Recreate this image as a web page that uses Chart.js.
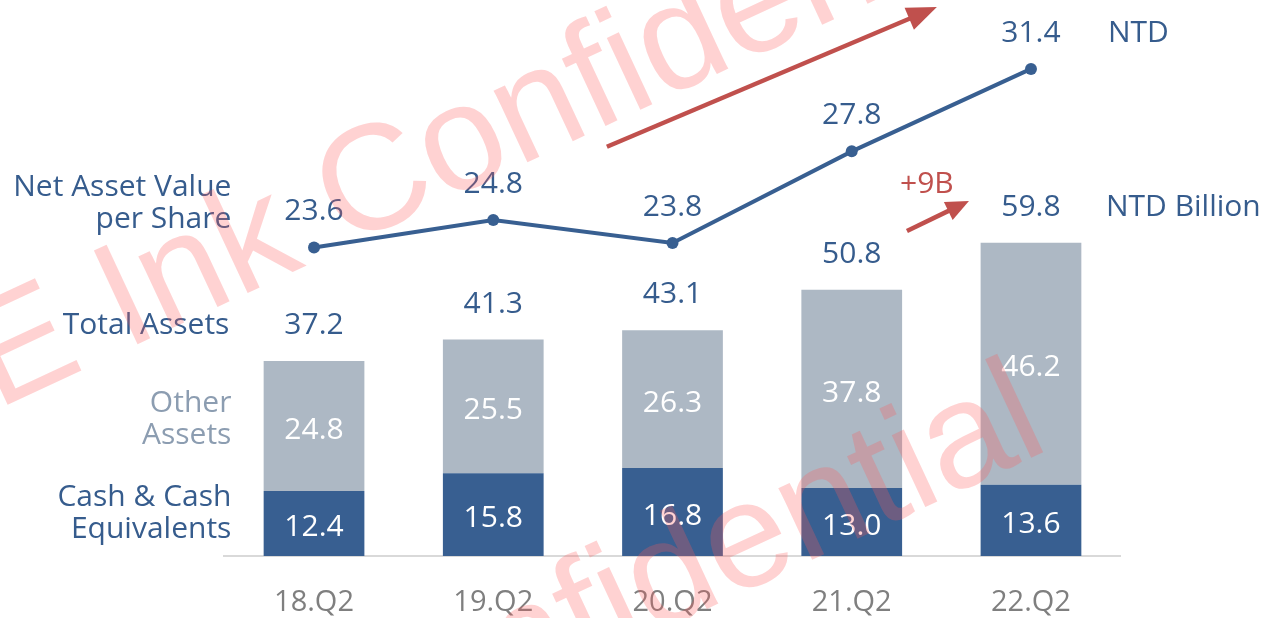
<!DOCTYPE html>
<html><head><meta charset="utf-8">
<script src="https://cdn.jsdelivr.net/npm/chart.js@4.4.0/dist/chart.umd.min.js"></script>
<style>html,body{margin:0;padding:0;background:#fff;overflow:hidden}</style>
</head><body>
<canvas id="c" width="1272" height="618"></canvas>
<script>
// ---- data ----
const categories = ['18.Q2', '19.Q2', '20.Q2', '21.Q2', '22.Q2'];
const cashValues = [12.4, 15.8, 16.8, 13.0, 13.6];
const otherValues = [24.8, 25.5, 26.3, 37.8, 46.2];
const totalValues = [37.2, 41.3, 43.1, 50.8, 59.8];
const navValues = [23.6, 24.8, 23.8, 27.8, 31.4];
const seriesNames = { nav: ['Net Asset Value', 'per Share'], total: ['Total Assets'], other: ['Other', 'Assets'], cash: ['Cash & Cash', 'Equivalents'] };
const unitNav = 'NTD';
const unitAssets = 'NTD Billion';
const growthLabel = '+9B';
const watermarkText = 'E Ink Confidential';

// ---- style ----
const FONT = '"Open Sans", "Noto Sans", sans-serif';
const FS = 30;
const BLUE = '#385f91';
const GRAY_BAR = '#adb8c4';
const TEXT_BLUE = '#365c8d';
const TEXT_GRAY = '#8c9db1';
const TICK_GRAY = '#7f7f7f';
const RED = '#c0504d';

// annotation anchors in scale units (category index, value)
const arrowNav = { from: [1.634, 28.0], to: [3.475, 34.1], scale: 'y2', width: 4.5, head: 30, half: 12 };
const arrowAssets = { from: [3.308, 62.0], to: [3.654, 67.75], scale: 'y', width: 4.5, head: 23, half: 10 };
const growthAnchor = [3.419, 71.4];

function drawText(ctx, str, x, cy, color, align) {
  ctx.fillStyle = color;
  ctx.textAlign = align || 'center';
  ctx.textBaseline = 'alphabetic';
  ctx.fillText(str, x, cy + FS * 0.357);
}

function drawArrow(ctx, x1, y1, x2, y2, w, head, half, color) {
  const ang = Math.atan2(y2 - y1, x2 - x1);
  const bx = x2 - Math.cos(ang) * head, by = y2 - Math.sin(ang) * head;
  ctx.strokeStyle = color; ctx.fillStyle = color; ctx.lineWidth = w; ctx.lineCap = 'butt';
  ctx.beginPath(); ctx.moveTo(x1, y1); ctx.lineTo(bx + Math.cos(ang) * 2, by + Math.sin(ang) * 2); ctx.stroke();
  ctx.beginPath();
  ctx.moveTo(x2, y2);
  ctx.lineTo(bx + Math.sin(ang) * half, by - Math.cos(ang) * half);
  ctx.lineTo(bx - Math.sin(ang) * half, by + Math.cos(ang) * half);
  ctx.closePath(); ctx.fill();
}

const labelPlugin = {
  id: 'valueLabels',
  afterDatasetsDraw(chart) {
    const { ctx, chartArea, scales } = chart;
    const lineMeta = chart.getDatasetMeta(0);
    const cashMeta = chart.getDatasetMeta(1);
    const otherMeta = chart.getDatasetMeta(2);
    ctx.save();
    ctx.font = FS + 'px ' + FONT;
    lineMeta.data.forEach((pt, i) => drawText(ctx, navValues[i].toFixed(1), pt.x, pt.y - 38, TEXT_BLUE));
    otherMeta.data.forEach((bar, i) => {
      drawText(ctx, totalValues[i].toFixed(1), bar.x, bar.y - 37.5, TEXT_BLUE);
      drawText(ctx, otherValues[i].toFixed(1), bar.x, (bar.y + bar.base) / 2 + 2, '#ffffff');
    });
    cashMeta.data.forEach((bar, i) => {
      drawText(ctx, cashValues[i].toFixed(1), bar.x, (bar.y + bar.base) / 2 + 2, '#ffffff');
    });
    const lx = chartArea.left + 7;
    const p0 = lineMeta.data[0], o0 = otherMeta.data[0], c0 = cashMeta.data[0];
    const navY = p0.y - 38;
    drawText(ctx, seriesNames.nav[0], lx, navY - 24, TEXT_BLUE, 'right');
    drawText(ctx, seriesNames.nav[1], lx, navY + 7.5, TEXT_BLUE, 'right');
    drawText(ctx, seriesNames.total[0], lx - 2, o0.y - 37.5, TEXT_BLUE, 'right');
    const oc = (o0.y + o0.base) / 2;
    drawText(ctx, seriesNames.other[0], lx, oc - 24.5, TEXT_GRAY, 'right');
    drawText(ctx, seriesNames.other[1], lx, oc + 7, TEXT_GRAY, 'right');
    const cc = (c0.y + c0.base) / 2;
    drawText(ctx, seriesNames.cash[0], lx, cc - 28, TEXT_BLUE, 'right');
    drawText(ctx, seriesNames.cash[1], lx, cc + 3.5, TEXT_BLUE, 'right');
    const pl = lineMeta.data[4], ol = otherMeta.data[4];
    drawText(ctx, unitNav, pl.x + 77, pl.y - 38, TEXT_BLUE, 'left');
    drawText(ctx, unitAssets, ol.x + 75, ol.y - 37.5, TEXT_BLUE, 'left');
    const X = scales.x;
    [arrowNav, arrowAssets].forEach(a => {
      const Y = scales[a.scale];
      drawArrow(ctx, X.getPixelForValue(a.from[0]), Y.getPixelForValue(a.from[1]),
        X.getPixelForValue(a.to[0]), Y.getPixelForValue(a.to[1]), a.width, a.head, a.half, RED);
    });
    drawText(ctx, growthLabel, X.getPixelForValue(growthAnchor[0]), scales.y.getPixelForValue(growthAnchor[1]), RED);
    ctx.restore();
  },
  afterDraw(chart) {
    const ctx = chart.ctx;
    ctx.save();
    ctx.font = '150px "Liberation Sans", Arial, sans-serif';
    ctx.fillStyle = 'rgba(255, 90, 90, 0.27)';
    ctx.textAlign = 'left';
    ctx.textBaseline = 'alphabetic';
    const ang = -25 * Math.PI / 180;
    const dx = Math.cos(ang), dy = Math.sin(ang);
    const wE = ctx.measureText('E ').width;
    const o1 = [125 - wE * dx, 350 - wE * dy];
    const wL = ctx.measureText(watermarkText.slice(0, -1)).width;
    const o2 = [1022 - wL * dx, 462 - wL * dy];
    [o1, o2].forEach(o => {
      ctx.save();
      ctx.translate(o[0], o[1]);
      ctx.rotate(ang);
      ctx.fillText(watermarkText, 0, 0);
      ctx.restore();
    });
    ctx.restore();
  }
};

new Chart(document.getElementById('c'), {
  data: {
    labels: categories,
    datasets: [
      { type: 'line', label: 'NAV', data: navValues, yAxisID: 'y2', borderColor: BLUE, backgroundColor: BLUE,
        borderWidth: 4, pointRadius: 6, pointHoverRadius: 6, pointBackgroundColor: BLUE, pointBorderWidth: 0, tension: 0, order: 0, clip: false },
      { type: 'bar', label: 'Cash', data: cashValues, yAxisID: 'y', stack: 's', backgroundColor: BLUE,
        categoryPercentage: 1, barPercentage: 0.562, order: 1 },
      { type: 'bar', label: 'Other', data: otherValues, yAxisID: 'y', stack: 's', backgroundColor: GRAY_BAR,
        categoryPercentage: 1, barPercentage: 0.562, order: 1 }
    ]
  },
  options: {
    responsive: false,
    animation: false,
    devicePixelRatio: 1,
    layout: { autoPadding: false, padding: { left: 224.4, right: 151.4, top: 0, bottom: 0 } },
    plugins: { legend: { display: false }, tooltip: { enabled: false } },
    scales: {
      x: {
        offset: true, stacked: true,
        grid: { display: false, drawTicks: false },
        border: { display: true, color: '#d9d9d9', width: 2 },
        ticks: { color: TICK_GRAY, padding: 32.5, font: { family: FONT, size: 29, lineHeight: 1 } },
        afterFit: (s) => { s.height = 62; }
      },
      y: { display: false, stacked: true, min: 0, max: 106.1 },
      y2: { display: false, min: 10.13, max: 34.41 }
    }
  },
  plugins: [labelPlugin]
});
</script>
</body></html>
